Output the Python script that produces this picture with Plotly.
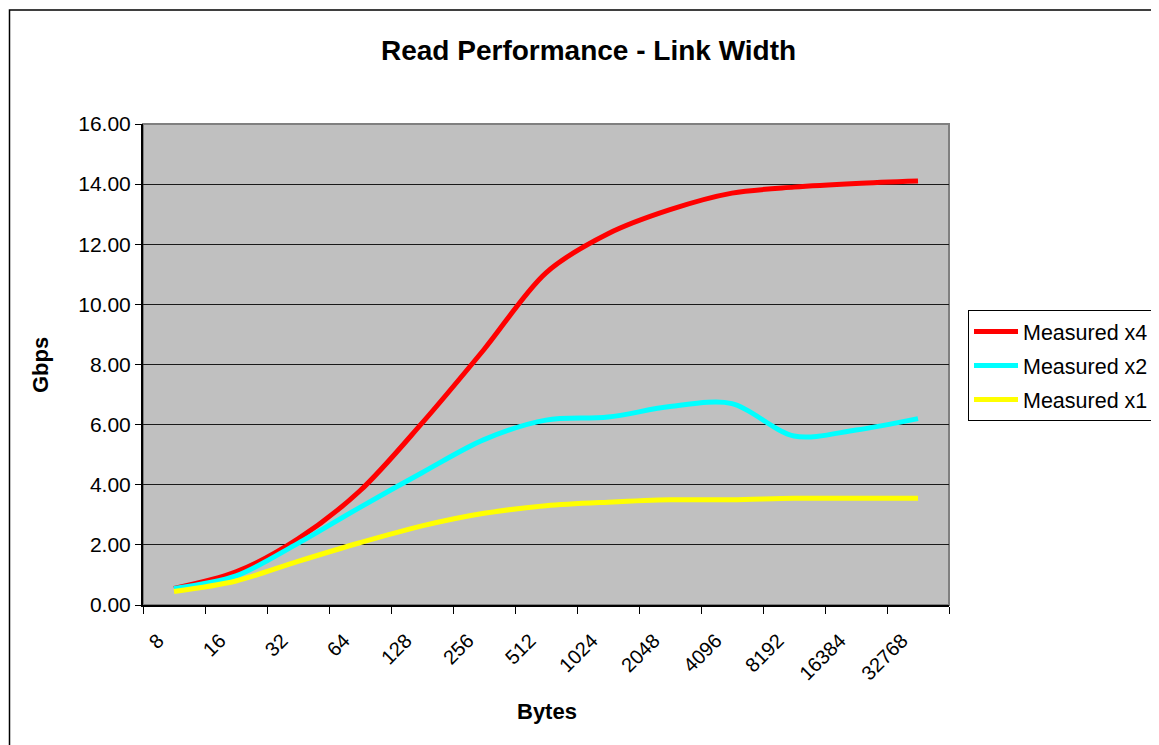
import plotly.graph_objects as go

byte_labels = ["8", "16", "32", "64", "128", "256", "512", "1024", "2048",
               "4096", "8192", "16384", "32768"]
measured_x4 = [0.55, 1.10, 2.20, 3.80, 6.05, 8.50, 11.05, 12.35, 13.15, 13.70, 13.90, 14.02, 14.10]
measured_x2 = [0.55, 0.97, 2.05, 3.25, 4.40, 5.50, 6.15, 6.25, 6.60, 6.70, 5.62, 5.82, 6.20]
measured_x1 = [0.45, 0.80, 1.45, 2.07, 2.63, 3.05, 3.30, 3.42, 3.50, 3.50, 3.55, 3.55, 3.55]

series = [
    ("Measured x4", measured_x4, "#FF0000"),
    ("Measured x2", measured_x2, "#00FFFF"),
    ("Measured x1", measured_x1, "#FFFF00"),
]

FONT = "Arial, Liberation Sans, sans-serif"
O = 8  # page body offset
W, H = 1159 - O, 745 - O
# plot area in screen pixels
L, R, T, B = 143, 949, 124, 605

fig = go.Figure()
for name, vals, col in series:
    fig.add_trace(go.Scatter(x=byte_labels, y=vals, name=name, mode="lines",
                             legendgroup=name,
                             line=dict(color=col, width=5, shape="spline", smoothing=0.9)))

def px_x(p):
    return (p - L) / (R - L)

def px_y(p):
    return (B - p) / (B - T)

fig.update_layout(
    width=W, height=H,
    margin=dict(l=L - O, r=W - (R - O), t=T - O, b=H - (B - O), pad=0),
    paper_bgcolor="white", plot_bgcolor="#C0C0C0",
    font=dict(family=FONT, color="black", size=21),
    showlegend=True,
    legend=dict(xref="container", yref="container",
                x=(968 - O) / W, y=1 - (310 - O) / H, xanchor="left", yanchor="top",
                bgcolor="white", bordercolor="black", borderwidth=1,
                font=dict(size=21.5, family=FONT), tracegroupgap=3,
                itemwidth=44),
    xaxis=dict(type="category", range=[-0.5, 12.5], tickangle=-45,
               tickson="boundaries", ticks="outside", ticklen=7, tickcolor="black",
               showline=True, linecolor="black", linewidth=2,
               showgrid=False, zeroline=False,
               tickfont=dict(size=20, family=FONT), ticklabelshift=-16,
               ticklabelstandoff=14),
    yaxis=dict(range=[0, 16], dtick=2, tickformat=".2f",
               ticks="outside", ticklen=6, tickcolor="black",
               showline=True, linecolor="black", linewidth=2,
               showgrid=True, gridcolor="#1a1a1a", gridwidth=1,
               zeroline=False, tickfont=dict(size=21, family=FONT)),
    shapes=[
        dict(type="rect", xref="paper", yref="paper", x0=0, x1=1, y0=0, y1=1,
             line=dict(color="#808080", width=2), layer="below"),
        dict(type="rect", xref="paper", yref="paper",
             x0=px_x(9.5), x1=px_x(1175), y0=px_y(760), y1=px_y(10),
             line=dict(color="black", width=1.5)),
    ],
    annotations=[
        dict(text="<b>Read Performance - Link Width</b>", xref="paper", yref="paper",
             x=px_x(588), y=px_y(50), xanchor="center", yanchor="middle",
             showarrow=False, font=dict(size=28, family=FONT)),
        dict(text="<b>Bytes</b>", xref="paper", yref="paper",
             x=px_x(547), y=px_y(711), xanchor="center", yanchor="middle",
             showarrow=False, font=dict(size=22, family=FONT)),
        dict(text="<b>Gbps</b>", xref="paper", yref="paper",
             x=px_x(40), y=px_y(365), xanchor="center", yanchor="middle",
             textangle=-90, showarrow=False, font=dict(size=22, family=FONT)),
    ],
)

fig.write_html("out.html")
